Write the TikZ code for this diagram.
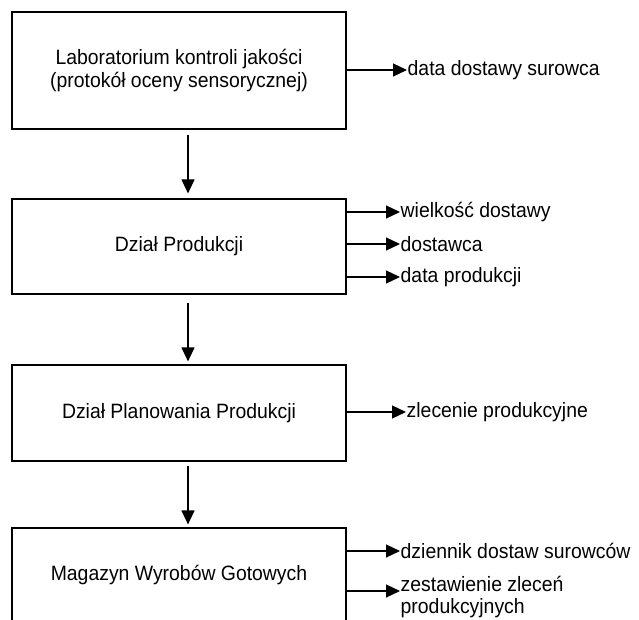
\documentclass[tikz,border=0pt]{standalone}
\usepackage{fontspec}
\setmainfont{Liberation Sans}
\usetikzlibrary{arrows.meta}
\newcommand\st[1]{\scalebox{1}[1.07]{#1}}
\begin{document}
\lineskiplimit=-100pt\relax
\begin{tikzpicture}[x=1pt,y=-1pt,
 every node/.style={font=\fontsize{19.4}{22.5}\selectfont},
 box/.style={draw, line width=1.2pt, minimum width=334pt, align=center, inner sep=0pt},
 lab/.style={anchor=west, inner sep=0.5pt, align=left},
 arr/.style={line width=1.2pt, -{Triangle[length=14pt,width=13pt]}}]
\useasboundingbox (0,0) rectangle (639,620);
\node[box, minimum height=117pt] (b1) at (179,70.5) {\st{Laboratorium kontroli jakości}\\\st{(protokół oceny sensorycznej)}};
\node[box, minimum height=95pt] (b2) at (179,246.5) {\st{Dział Produkcji}};
\node[box, minimum height=96pt] (b3) at (179,413) {\st{Dział Planowania Produkcji}};
\node[box, minimum height=95pt] (b4) at (179,575.5) {\st{Magazyn Wyrobów Gotowych}};
\node[lab] (l1) at (407,70) {\st{data dostawy surowca}};
\node[lab] (l21) at (400,212) {\st{wielkość dostawy}};
\node[lab] (l22) at (400,244) {\st{dostawca}};
\node[lab] (l23) at (400,277) {\st{data produkcji}};
\node[lab] (l3) at (406,412) {\st{zlecenie produkcyjne}};
\node[lab] (l41) at (400,551) {\st{dziennik dostaw surowców}};
\node[lab] (l42) at (400,597) {\st{zestawienie zleceń}\\\st{produkcyjnych}};
\coordinate (t42) at (400,591);
\draw[arr] (b1.east |- l1.west) -- (l1.west);
\draw[arr] (b2.east |- l21.west) -- (l21.west);
\draw[arr] (b2.east |- l22.west) -- (l22.west);
\draw[arr] (b2.east |- l23.west) -- (l23.west);
\draw[arr] (b3.east |- l3.west) -- (l3.west);
\draw[arr] (b4.east |- l41.west) -- (l41.west);
\draw[arr] (b4.east |- t42) -- (t42);
\draw[arr] ([xshift=9pt,yshift=-5pt]b1.south) -- ([xshift=9pt,yshift=5pt]b2.north);
\draw[arr] ([xshift=9pt,yshift=-8pt]b2.south) -- ([xshift=9pt,yshift=3pt]b3.north);
\draw[arr] ([xshift=9pt,yshift=-4pt]b3.south) -- ([xshift=9pt,yshift=3pt]b4.north);
\end{tikzpicture}
\end{document}
